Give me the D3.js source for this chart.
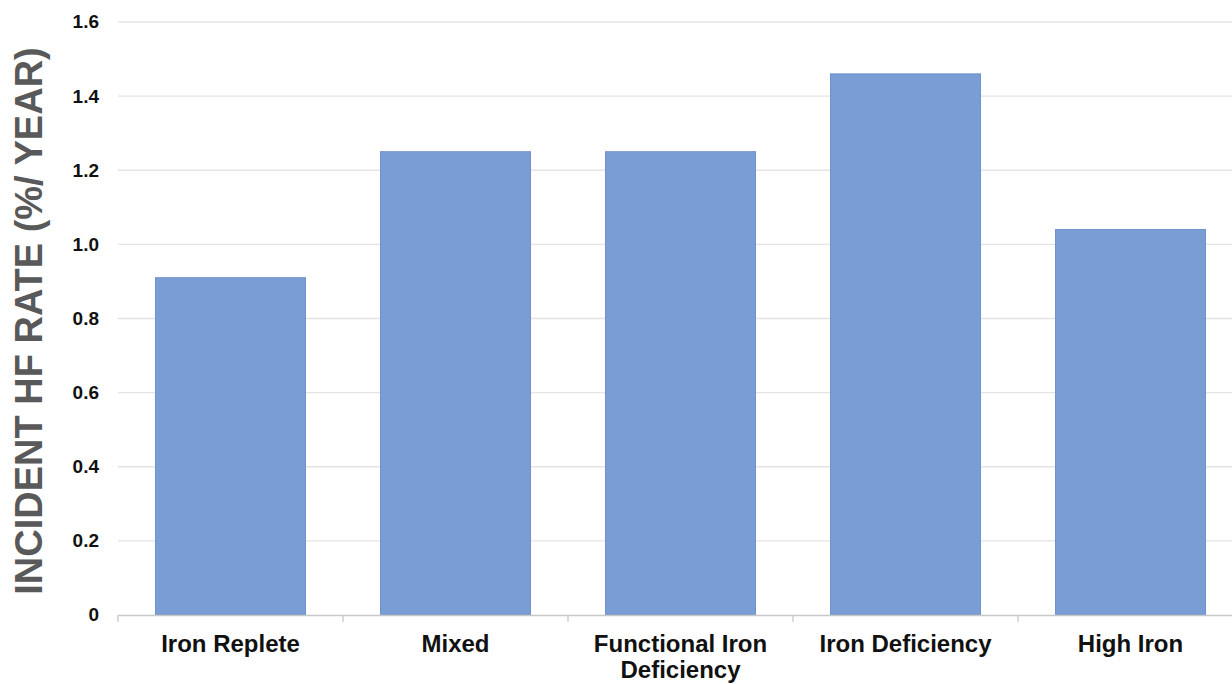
<!DOCTYPE html>
<html><head><meta charset="utf-8">
<script src="https://cdn.jsdelivr.net/npm/d3@7"></script>
<style>
html,body{margin:0;padding:0;background:#fff;}
svg{display:block;font-family:"Liberation Sans",Arial,sans-serif;}
</style></head>
<body><svg id="c" width="1232" height="684"></svg>
<script>
const categories = ["Iron Replete","Mixed","Functional Iron Deficiency","Iron Deficiency","High Iron"];
const categoryLines = [["Iron Replete"],["Mixed"],["Functional Iron","Deficiency"],["Iron Deficiency"],["High Iron"]];
const values = [0.91, 1.25, 1.25, 1.46, 1.04];
const yTicks = [0, 0.2, 0.4, 0.6, 0.8, 1.0, 1.2, 1.4, 1.6];
const yTickLabels = ["0","0.2","0.4","0.6","0.8","1.0","1.2","1.4","1.6"];
const yTitle = "INCIDENT HF RATE (%/ YEAR)";

(function(){
const svg = d3.select("#c");
const mL = 118, mR = 1243, mT = 22, mB = 615;

const x = d3.scaleBand().domain(categories).range([mL, mR]).paddingInner(1/3).paddingOuter(1/6);
const y = d3.scaleLinear().domain([0, 1.6]).range([mB, mT]);

svg.append("g").selectAll("line").data(yTicks.filter(d => d > 0)).join("line")
  .attr("x1", mL).attr("x2", 1232)
  .attr("y1", d => y(d)).attr("y2", d => y(d))
  .attr("stroke", "#e4e4e4").attr("stroke-width", 1.3);

svg.append("g").selectAll("rect").data(values).join("rect")
  .attr("x", (d, i) => x(categories[i]))
  .attr("width", x.bandwidth())
  .attr("y", d => y(d))
  .attr("height", d => y(0) - y(d))
  .attr("fill", "#7b9dd5")
  .attr("stroke", "#6f91cc").attr("stroke-width", 1);

const step = x.step();
const g = svg.append("g");
g.append("line").attr("x1", mL).attr("x2", 1232).attr("y1", mB + 0.5).attr("y2", mB + 0.5)
  .attr("stroke", "#c8c8c8").attr("stroke-width", 1.3);
g.selectAll("line.t").data(d3.range(categories.length + 1)).join("line").attr("class", "t")
  .attr("x1", i => mL + i * step).attr("x2", i => mL + i * step)
  .attr("y1", mB).attr("y2", mB + 7)
  .attr("stroke", "#c8c8c8").attr("stroke-width", 1.3);

const xl = svg.append("g").selectAll("text").data(categories).join("text")
  .attr("x", d => x(d) + x.bandwidth() / 2)
  .attr("y", 652)
  .attr("text-anchor", "middle")
  .attr("font-size", 24).attr("font-weight", "bold").attr("fill", "#111");
xl.each(function(d, i) {
  const t = d3.select(this);
  categoryLines[i].forEach((ln, j) => {
    t.append("tspan").attr("x", x(d) + x.bandwidth() / 2).attr("dy", j === 0 ? 0 : 26).text(ln);
  });
});

svg.append("g").selectAll("text").data(yTicks).join("text")
  .attr("x", 99).attr("y", d => y(d)).attr("dy", "0.34em")
  .attr("text-anchor", "end")
  .attr("font-size", 19).attr("font-weight", "bold").attr("fill", "#111")
  .text((d, i) => yTickLabels[i]);

svg.append("text")
  .attr("transform", "translate(42,321) rotate(-90)")
  .attr("text-anchor", "middle")
  .attr("font-size", 38).attr("font-weight", "bold").attr("fill", "#595959")
  .text(yTitle);
})();
</script></body></html>
